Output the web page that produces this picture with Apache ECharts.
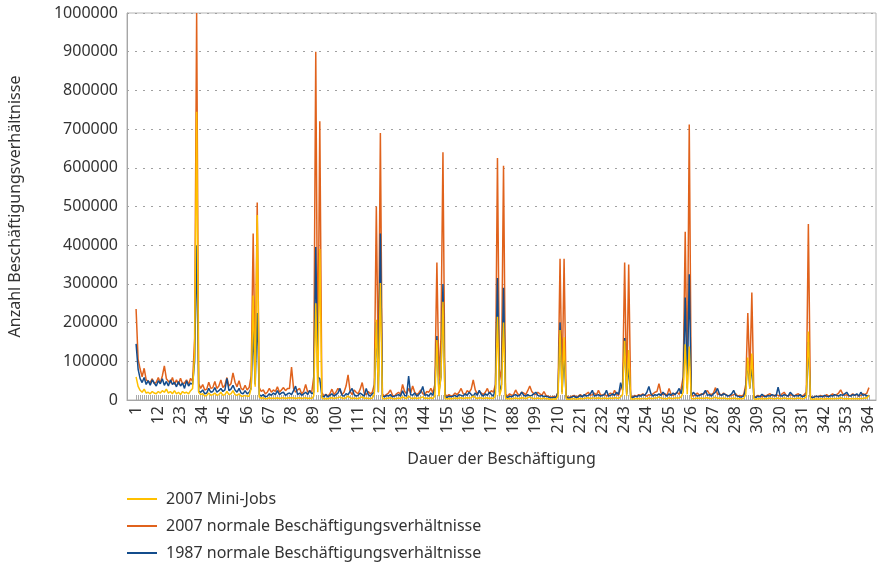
<!DOCTYPE html>
<html>
<head>
<meta charset="utf-8">
<script src="https://cdn.jsdelivr.net/npm/echarts@6/dist/echarts.min.js"></script>
<style>html,body{margin:0;padding:0;background:#fff}#c{width:880px;height:564px}</style>
</head>
<body>
<div id="c"></div>
<script>
// Day index (1..364)
const days = Array.from({length: 364}, (_, i) => i + 1);
const xTickLabels = [1,12,23,34,45,56,67,78,89,100,111,122,133,144,155,166,177,188,199,210,221,232,243,254,265,276,287,298,309,320,331,342,353,364];
const seriesNames = ['2007 Mini-Jobs', '2007 normale Beschäftigungsverhältnisse', '1987 normale Beschäftigungsverhältnisse'];

const normal2007 = [
235000,105000,80000,60000,82000,52000,48000,45000,55000,42000,
46000,58000,44000,62000,88000,55000,48000,44000,58000,40000,
52000,40000,56000,42000,44000,52000,40000,56000,48000,160000,
1000000,42000,30000,40000,26000,28000,46000,30000,32000,48000,
30000,36000,52000,32000,38000,58000,36000,42000,70000,46000,
34000,50000,30000,26000,38000,26000,32000,62000,430000,70000,
510000,32000,22000,26000,16000,20000,30000,20000,26000,22000,
34000,20000,26000,32000,24000,30000,30000,85000,30000,20000,
26000,30000,16000,22000,40000,20000,24000,20000,60000,900000,
45000,720000,20000,10000,15000,10000,16000,28000,14000,20000,
30000,24000,14000,20000,36000,65000,22000,14000,26000,20000,
16000,28000,45000,18000,14000,22000,16000,20000,40000,500000,
60000,690000,15000,10000,14000,18000,26000,12000,10000,16000,
20000,14000,40000,22000,16000,30000,18000,36000,20000,14000,
18000,26000,16000,14000,22000,20000,30000,18000,40000,355000,
50000,160000,640000,15000,10000,14000,10000,12000,18000,14000,
20000,30000,16000,14000,24000,20000,28000,52000,26000,16000,
22000,18000,14000,20000,30000,16000,24000,20000,40000,625000,
50000,80000,605000,15000,10000,16000,12000,14000,26000,16000,
12000,20000,18000,14000,24000,36000,22000,16000,14000,20000,
16000,12000,22000,12000,10000,8000,8000,9000,8000,20000,
365000,30000,365000,12000,6000,8000,10000,12000,8000,10000,
14000,10000,12000,16000,20000,12000,14000,18000,12000,25000,
14000,12000,16000,10000,14000,18000,12000,25000,14000,12000,
30000,40000,355000,20000,350000,10000,8000,12000,10000,14000,
12000,16000,12000,10000,14000,12000,16000,20000,22000,42000,
18000,14000,16000,12000,30000,14000,12000,16000,20000,14000,
30000,60000,435000,40000,712000,12000,10000,14000,18000,12000,
16000,14000,20000,24000,16000,14000,18000,32000,14000,16000,
12000,18000,14000,12000,10000,12000,14000,16000,10000,12000,
10000,14000,40000,225000,60000,278000,10000,8000,12000,10000,
8000,12000,10000,14000,16000,12000,10000,14000,12000,10000,
16000,20000,12000,10000,14000,12000,10000,14000,16000,12000,
10000,14000,20000,455000,10000,6000,8000,10000,8000,12000,
10000,8000,14000,10000,12000,16000,12000,14000,18000,26000,
16000,12000,14000,10000,12000,16000,12000,14000,10000,12000,
16000,14000,18000,32000
];

const normal1987 = [
145000,80000,55000,45000,58000,40000,50000,38000,52000,44000,
36000,50000,42000,55000,38000,48000,36000,52000,40000,46000,
34000,48000,36000,44000,30000,50000,36000,44000,40000,100000,
400000,22000,20000,26000,16000,18000,30000,20000,22000,32000,
20000,24000,30000,22000,26000,56000,24000,28000,38000,26000,
20000,30000,18000,16000,24000,16000,20000,30000,180000,40000,
225000,14000,10000,14000,8000,10000,16000,12000,18000,14000,
24000,14000,18000,20000,12000,16000,18000,14000,24000,36000,
14000,18000,12000,16000,20000,14000,24000,16000,20000,395000,
60000,55000,10000,8000,14000,8000,12000,16000,10000,14000,
18000,30000,12000,10000,16000,14000,22000,30000,14000,10000,
12000,18000,14000,10000,30000,14000,10000,16000,20000,200000,
20000,430000,10000,8000,12000,10000,14000,8000,10000,12000,
14000,10000,24000,12000,10000,62000,14000,12000,18000,10000,
14000,20000,35000,12000,14000,10000,18000,12000,30000,165000,
20000,60000,300000,10000,6000,10000,8000,10000,12000,8000,
14000,12000,10000,16000,12000,20000,14000,10000,18000,12000,
25000,14000,10000,16000,12000,20000,14000,10000,30000,315000,
20000,40000,290000,10000,6000,10000,8000,12000,14000,10000,
12000,20000,12000,10000,14000,10000,12000,16000,20000,12000,
10000,12000,8000,10000,8000,6000,6000,7000,6000,20000,
200000,20000,120000,8000,4000,6000,8000,10000,6000,8000,
12000,8000,14000,10000,12000,16000,25000,10000,12000,14000,
10000,12000,14000,25000,10000,12000,16000,12000,20000,14000,
45000,25000,160000,15000,90000,8000,6000,10000,8000,12000,
10000,14000,12000,20000,35000,16000,10000,14000,12000,16000,
12000,20000,14000,10000,16000,12000,18000,14000,20000,30000,
16000,40000,265000,30000,325000,10000,20000,14000,10000,12000,
14000,16000,25000,12000,14000,10000,16000,20000,30000,14000,
12000,16000,14000,10000,12000,16000,25000,12000,10000,8000,
8000,10000,30000,100000,30000,90000,8000,6000,10000,8000,
15000,10000,8000,12000,10000,14000,12000,10000,33000,12000,
10000,14000,12000,10000,20000,14000,10000,12000,10000,14000,
8000,10000,14000,150000,8000,6000,8000,10000,8000,10000,
8000,12000,10000,8000,12000,10000,14000,12000,10000,14000,
12000,16000,20000,12000,10000,14000,12000,16000,10000,20000,
12000,14000,10000,12000
];

const miniJobs2007 = [
60000,35000,25000,20000,28000,18000,20000,16000,22000,18000,
16000,22000,18000,24000,20000,28000,18000,22000,16000,24000,
16000,20000,14000,22000,18000,20000,16000,24000,30000,120000,
745000,20000,14000,16000,10000,12000,18000,12000,14000,18000,
12000,14000,20000,12000,14000,22000,14000,16000,24000,14000,
12000,16000,10000,10000,12000,10000,10000,30000,270000,34000,
478000,8000,4000,6000,3000,4000,6000,4000,5000,4000,
6000,4000,5000,6000,4000,5000,6000,5000,6000,4000,
5000,6000,4000,5000,6000,4000,5000,4000,10000,250000,
20000,390000,5000,3000,4000,3000,5000,6000,4000,5000,
6000,8000,5000,4000,6000,10000,6000,4000,5000,4000,
4000,6000,8000,4000,5000,4000,4000,5000,15000,207000,
20000,302000,4000,3000,4000,5000,6000,4000,3000,4000,
5000,4000,8000,5000,4000,10000,5000,4000,6000,4000,
5000,6000,8000,4000,5000,4000,6000,4000,10000,155000,
10000,60000,254000,4000,3000,4000,3000,4000,5000,4000,
5000,6000,4000,5000,6000,5000,6000,10000,6000,4000,
6000,5000,4000,5000,6000,4000,5000,4000,10000,215000,
10000,30000,200000,4000,3000,4000,3000,4000,5000,4000,
4000,6000,5000,4000,6000,8000,5000,4000,4000,5000,
4000,3000,5000,3000,3000,2000,2000,3000,2000,10000,
181000,15000,162000,3000,2000,2000,3000,3000,2000,3000,
4000,3000,4000,5000,6000,4000,5000,5000,4000,6000,
4000,4000,5000,4000,4000,5000,4000,6000,5000,4000,
8000,15000,153000,10000,129000,3000,2000,3000,3000,4000,
3000,4000,4000,3000,5000,4000,4000,5000,5000,8000,
5000,4000,4000,3000,6000,4000,4000,5000,5000,5000,
8000,20000,144000,15000,138000,4000,3000,4000,5000,4000,
5000,4000,5000,6000,4000,4000,5000,7000,4000,5000,
4000,5000,4000,3000,4000,4000,5000,4000,3000,3000,
3000,4000,15000,110000,30000,120000,3000,2000,3000,3000,
3000,4000,3000,4000,5000,4000,3000,4000,5000,3000,
4000,5000,4000,3000,4000,4000,3000,4000,5000,4000,
3000,4000,8000,177000,3000,2000,2000,3000,2000,3000,
3000,2000,4000,3000,3000,4000,3000,4000,4000,6000,
4000,3000,4000,3000,3000,4000,3000,4000,3000,4000,
4000,5000,5000,12000
];

const colors = {mini: '#FFC000', n2007: '#E0621C', n1987: '#134C8C'};
const FONT = 'Noto Sans';
const pairs = arr => days.map((d, i) => [d, arr[i]]);

const chart = echarts.init(document.getElementById('c'), null, {renderer: 'canvas'});
chart.setOption({
  animation: false,
  backgroundColor: '#fff',
  textStyle: {fontFamily: FONT},
  grid: {left: 127, right: 4, top: 13, bottom: 164, show: true, borderColor: '#b4b4b4', borderWidth: 1, containLabel: false, outerBoundsMode: 'none'},
  legend: {
    orient: 'vertical', left: 122, top: 484, height: 120,
    itemWidth: 30, itemHeight: 2, itemGap: 7, icon: 'rect',
    data: seriesNames,
    textStyle: {fontFamily: FONT, fontSize: 16, color: '#333', lineHeight: 20, padding: [0, 0, 0, 4]}
  },
  xAxis: {
    type: 'value', min: -3.5, max: 367.5,
    name: 'Dauer der Beschäftigung', nameLocation: 'middle', nameGap: 51,
    nameTextStyle: {fontFamily: FONT, fontSize: 16, color: '#333'},
    axisLine: {onZero: false, lineStyle: {color: '#a6a6a6'}},
    axisTick: {show: true, customValues: days, inside: true, length: 5, lineStyle: {color: '#aaaaaa', width: 1}},
    axisLabel: {customValues: xTickLabels, rotate: 90, fontFamily: FONT, fontSize: 16, color: '#333', margin: 6},
    splitLine: {show: false}
  },
  yAxis: {
    type: 'value', min: 0, max: 1000000, interval: 100000,
    name: 'Anzahl Beschäftigungsverhältnisse', nameLocation: 'middle', nameGap: 104,
    nameTextStyle: {fontFamily: FONT, fontSize: 16, color: '#333'},
    axisLine: {show: true, onZero: false, lineStyle: {color: '#a6a6a6'}},
    axisTick: {show: false},
    axisLabel: {fontFamily: FONT, fontSize: 16, color: '#333', margin: 9, formatter: v => String(v)},
    splitLine: {lineStyle: {color: '#a0a0a0', type: [2, 6], width: 1}}
  },
  series: [
    {name: seriesNames[1], type: 'line', data: pairs(normal2007), symbol: 'none', lineStyle: {width: 1.5, color: colors.n2007}, itemStyle: {color: colors.n2007}},
    {name: seriesNames[2], type: 'line', data: pairs(normal1987), symbol: 'none', lineStyle: {width: 1.5, color: colors.n1987}, itemStyle: {color: colors.n1987}},
    {name: seriesNames[0], type: 'line', data: pairs(miniJobs2007), symbol: 'none', lineStyle: {width: 1.5, color: colors.mini}, itemStyle: {color: colors.mini}}
  ]
});
</script>
</body>
</html>
